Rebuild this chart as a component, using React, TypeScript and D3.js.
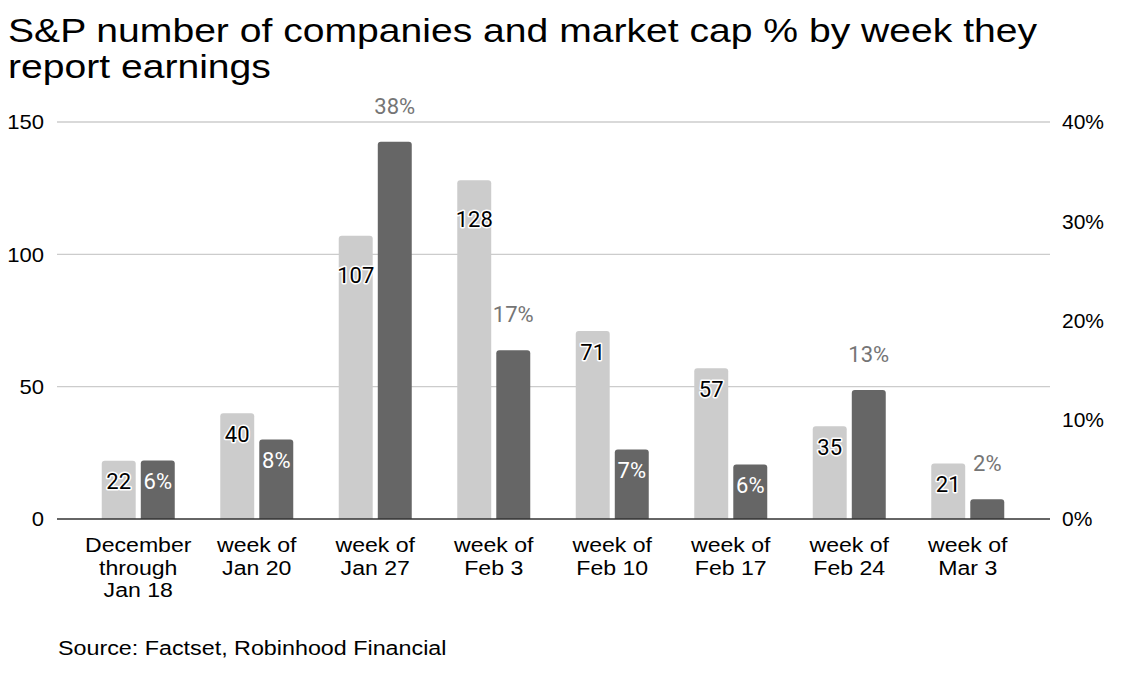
import * as d3 from 'd3';

const categories = [
	["December", "through", "Jan 18"],
	["week of", "Jan 20"],
	["week of", "Jan 27"],
	["week of", "Feb 3"],
	["week of", "Feb 10"],
	["week of", "Feb 17"],
	["week of", "Feb 24"],
	["week of", "Mar 3"],
];
const companyCounts = [22, 40, 107, 128, 71, 57, 35, 21];
const marketCapPct = [5.9, 8, 38, 17, 7, 5.5, 13, 2];
const leftTicks = [0, 50, 100, 150];
const rightTicks = [0, 10, 20, 30, 40];

// labels that google sheets pushed further down the bar
const countLabelNudge: Record<number, number> = {2: 18, 3: 18};

const width = 1124;
const height = 678;
const plot = {left: 57, right: 1050, top: 122, bottom: 519};
const font = "'Liberation Sans', Arial, sans-serif";
const labelFont = "Roboto, sans-serif";

// bar with rounded top corners
const topRounded = (x: number, y: number, w: number, h: number, r: number) => {
	const rr = Math.min(r, h, w / 2);
	return `M${x},${y + h}V${y + rr}Q${x},${y} ${x + rr},${y}H${x + w - rr}Q${x + w},${y} ${x + w},${y + rr}V${y + h}Z`;
};

// the source image is a bit wider than tall, so text gets stretched sideways
const Wide = ({x, y, sx, children, ...rest}: any) => (
	<text transform={`translate(${x},${y}) scale(${sx},1)`} {...rest}>{children}</text>
);

export default function App() {
	const keys = categories.map(c => c.join(" "));

	const x0 = d3.scaleBand()
		.domain(keys)
		.range([79, 1027])
		.padding(0);

	const groupW = 73;
	const x1 = d3.scaleBand()
		.domain(["count", "pct"])
		.range([0, groupW])
		.paddingInner(0.13);

	const yLeft = d3.scaleLinear().domain([0, 150]).range([plot.bottom, plot.top]);
	const yRight = d3.scaleLinear().domain([0, 40]).range([plot.bottom, plot.top]);

	const groupX = (i: number) => (x0(keys[i]) as number) + (x0.bandwidth() - groupW) / 2;
	const bw = x1.bandwidth();

	return (
		<svg width={width} height={height} viewBox={`0 0 ${width} ${height}`}
			style={{position: "absolute", left: 0, top: 0, background: "#fff"}}>
			<rect width={width} height={height} fill="#fff" />
			<Wide x={8} y={42} sx={1.15} fontFamily={font} fontSize={34} fill="#000">
				S&amp;P number of companies and market cap % by week they
			</Wide>
			<Wide x={8} y={78} sx={1.15} fontFamily={font} fontSize={34} fill="#000">report earnings</Wide>

			{/* gridlines */}
			{leftTicks.filter(t => t > 0).map(t => (
				<line key={t} x1={plot.left} x2={plot.right} y1={yLeft(t)} y2={yLeft(t)} stroke="#cccccc" strokeWidth={1.3} />
			))}

			{/* left axis */}
			{leftTicks.map(t => (
				<Wide key={t} x={44} y={yLeft(t)} sx={1.05} dy="0.35em" textAnchor="end" fontFamily={font} fontSize={21} fill="#000">{t}</Wide>
			))}

			{/* right axis */}
			{rightTicks.map(t => (
				<text key={t} x={1062} y={yRight(t)} dy="0.35em" textAnchor="start" fontFamily={font} fontSize={21} fill="#000">{t}%</text>
			))}

			{/* bars */}
			{companyCounts.map((v, i) => {
				const x = groupX(i) + (x1("count") as number);
				const y = yLeft(v);
				return <path key={"c" + i} d={topRounded(x, y, bw, plot.bottom - y, 3)} fill="#cccccc" />;
			})}
			{marketCapPct.map((v, i) => {
				const x = groupX(i) + (x1("pct") as number);
				const y = yRight(v);
				return <path key={"p" + i} d={topRounded(x, y, bw, plot.bottom - y, 3)} fill="#666666" />;
			})}

			{/* baseline */}
			<line x1={plot.left} x2={plot.right} y1={plot.bottom} y2={plot.bottom} stroke="#333333" strokeWidth={1.5} />

			{/* count labels */}
			{companyCounts.map((v, i) => {
				const cx = groupX(i) + (x1("count") as number) + bw / 2;
				const cy = yLeft(v) + 21 + (countLabelNudge[i] || 0);
				return (
					<text key={"cl" + i} x={cx} y={cy} dy="0.35em" textAnchor="middle" fontFamily={labelFont} fontSize={22}
						fill="#000" stroke="#fff" strokeWidth={3} paintOrder="stroke" strokeLinejoin="round">{v}</text>
				);
			})}

			{/* market cap labels */}
			{marketCapPct.map((v, i) => {
				const cx = groupX(i) + (x1("pct") as number) + bw / 2;
				const outside = v >= 10 || v < 3;
				const cy = outside ? yRight(v) - 36 : yRight(v) + 21;
				return (
					<text key={"pl" + i} x={cx} y={cy} dy="0.35em" textAnchor="middle" fontFamily={labelFont} fontSize={22}
						fill={outside ? "#757575" : "#ffffff"}>{Math.round(v)}%</text>
				);
			})}

			{/* category labels */}
			{categories.map((lines, i) => {
				const cx = (x0(keys[i]) as number) + x0.bandwidth() / 2;
				return lines.map((l, j) => (
					<Wide key={"x" + i + "-" + j} x={cx} y={552 + j * 22.5} sx={1.1} textAnchor="middle"
						fontFamily={font} fontSize={21} fill="#000">{l}</Wide>
				));
			})}

			<Wide x={58} y={655} sx={1.11} fontFamily={font} fontSize={21} fill="#000">Source: Factset, Robinhood Financial</Wide>
		</svg>
	);
}
